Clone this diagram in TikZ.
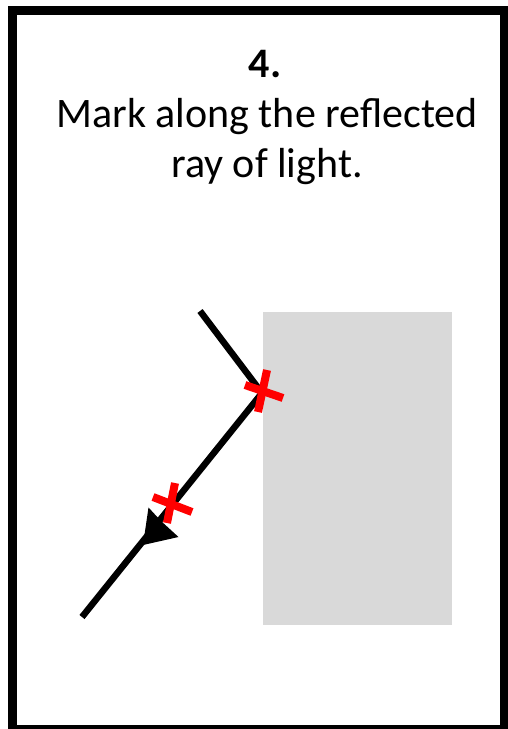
\documentclass[tikz,border=0pt]{standalone}
\usepackage{fontspec}
\setmainfont{Carlito}
\definecolor{blockgray}{HTML}{D9D9D9}
\definecolor{markred}{HTML}{FF0000}
\tikzset{
  frame/.style={draw=black, line width=9pt},
  ray/.style={draw=black, line width=6.5pt},
  xmark/.style={draw=markred, line width=8pt},
  title/.style={font=\fontsize{42}{50}\selectfont, anchor=base, inner sep=0pt},
}
\begin{document}
\begin{tikzpicture}[x=1pt,y=-1pt]
\useasboundingbox (0,0) rectangle (508,729);
\fill[white] (0,0) rectangle (508,729);
\begin{scope}
\clip (0,0) rectangle (508,729);
\draw[frame] (12.5,10.5) rectangle (504,729.5);
\end{scope}
\node[title] (num) at (265,77) {\textbf{4.}};
\node[title] (l1) at (267,127) {Mark along the reflected};
\node[title] (l2) at (267,177) {ray of light.};
\fill[blockgray] (263,312) rectangle (452,625);
\coordinate (src) at (200,311);
\coordinate (hit) at (262,393);
\coordinate (end) at (82,617);
\draw[ray] (src) -- (hit) -- (end);
\fill[black] (143,545) -- (148.5,507.5) -- (161,521) -- (178.5,537) -- cycle;
\draw[xmark] (245,385) -- (283,398);
\draw[xmark] (267,370) -- (258,412);
\draw[xmark] (153,497) -- (192,512);
\draw[xmark] (175,483) -- (167,523);
\end{tikzpicture}
\end{document}
